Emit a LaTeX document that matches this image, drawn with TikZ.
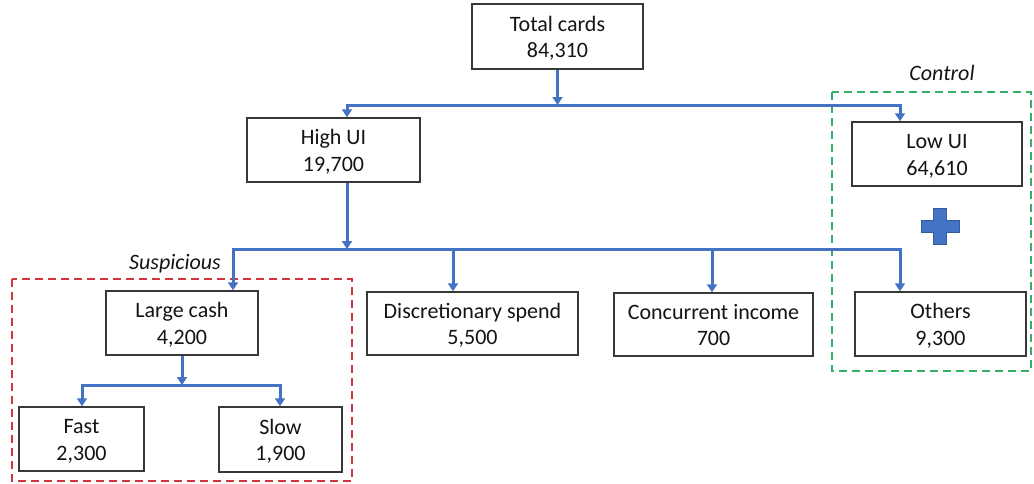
\documentclass[tikz,border=0pt]{standalone}
\usepackage{fontspec}
\setmainfont{Carlito}
\usetikzlibrary{arrows.meta}
\definecolor{lineblue}{HTML}{4472C4}
\definecolor{boxgray}{HTML}{383838}
\definecolor{txt}{HTML}{141414}
\definecolor{sred}{HTML}{D0363C}
\definecolor{cgreen}{HTML}{33B062}
\begin{document}
\begin{tikzpicture}[x=1pt,y=-1pt,
  box/.style={draw=boxgray, line width=1.5pt, fill=white, align=center, text=txt,
    font=\fontsize{22}{26.5}\selectfont, inner sep=0pt, text height=47pt, text depth=5pt},
  arr/.style={draw=lineblue, line width=3pt, -{Triangle[width=10pt,length=8pt]}},
  bus/.style={draw=lineblue, line width=3pt, line cap=rect},
  grp/.style={line width=1.8pt, dash pattern=on 8pt off 5pt},
  lab/.style={font=\fontsize{22}{26}\selectfont\itshape, text=txt, inner sep=0pt}]
\useasboundingbox (0,0) rectangle (1034,483);

% group frames
\draw[grp, draw=sred] (12,279) rectangle (352,481);
\draw[grp, draw=cgreen] (832,92) rectangle (1031,371);
\node[lab] (suslab) at (175,264) {Suspicious};
\node[lab] (ctrllab) at (942,73) {Control};

% boxes
\node[box, minimum width=171pt, minimum height=65pt] (total) at (557.5,36.5) {Total cards\\84,310};
\node[box, minimum width=173pt, minimum height=64pt] (high) at (333.5,150) {High UI\\19,700};
\node[box, minimum width=170pt, minimum height=64pt] (low) at (937,154) {Low UI\\64,610};
\node[box, minimum width=152pt, minimum height=64pt] (large) at (182,323) {Large cash\\4,200};
\node[box, minimum width=211pt, minimum height=63pt] (disc) at (472.5,323.5) {Discretionary spend\\5,500};
\node[box, minimum width=199pt, minimum height=63pt] (conc) at (713.5,324.5) {Concurrent income\\700};
\node[box, minimum width=171pt, minimum height=64pt] (others) at (940.5,324) {Others\\9,300};
\node[box, minimum width=125pt, minimum height=64pt] (fast) at (81.5,439) {Fast\\2,300};
\node[box, minimum width=123pt, minimum height=65pt] (slow) at (280.5,439.5) {Slow\\1,900};

% bus 1
\coordinate (b1l) at (347,105);
\coordinate (b1r) at (900,105);
\draw[bus] (b1l) -- (b1r);
\draw[arr] (total.south) -- (total.south |- b1l);
\draw[arr] (b1l) -- (b1l |- high.north);
\draw[arr] (b1r) -- (b1r |- low.north);

% bus 2
\coordinate (b2l) at (233,249);
\coordinate (b2r) at (900,249);
\coordinate (b2in) at (347,249);
\coordinate (b2d) at (453,249);
\coordinate (b2c) at (712,249);
\draw[bus] (b2l) -- (b2r);
\draw[arr] (b2in |- high.south) -- (b2in);
\draw[arr] (b2l) -- (b2l |- large.north);
\draw[arr] (b2d) -- (b2d |- disc.north);
\draw[arr] (b2c) -- (b2c |- conc.north);
\draw[arr] (b2r) -- (b2r |- others.north);

% bus 3
\coordinate (b3l) at (82,385);
\coordinate (b3r) at (280,385);
\draw[bus] (b3l) -- (b3r);
\draw[arr] (large.south) -- (large.south |- b3l);
\draw[arr] (b3l) -- (b3l |- fast.north);
\draw[arr] (b3r) -- (b3r |- slow.north);

% plus sign
\fill[lineblue, draw=lineblue!80!black, line width=0.6pt]
  (933.5,208) -- (946.5,208) -- (946.5,220) -- (959,220) -- (959,232) -- (946.5,232)
  -- (946.5,244) -- (933.5,244) -- (933.5,232) -- (921,232) -- (921,220) -- (933.5,220) -- cycle;
\end{tikzpicture}
\end{document}
